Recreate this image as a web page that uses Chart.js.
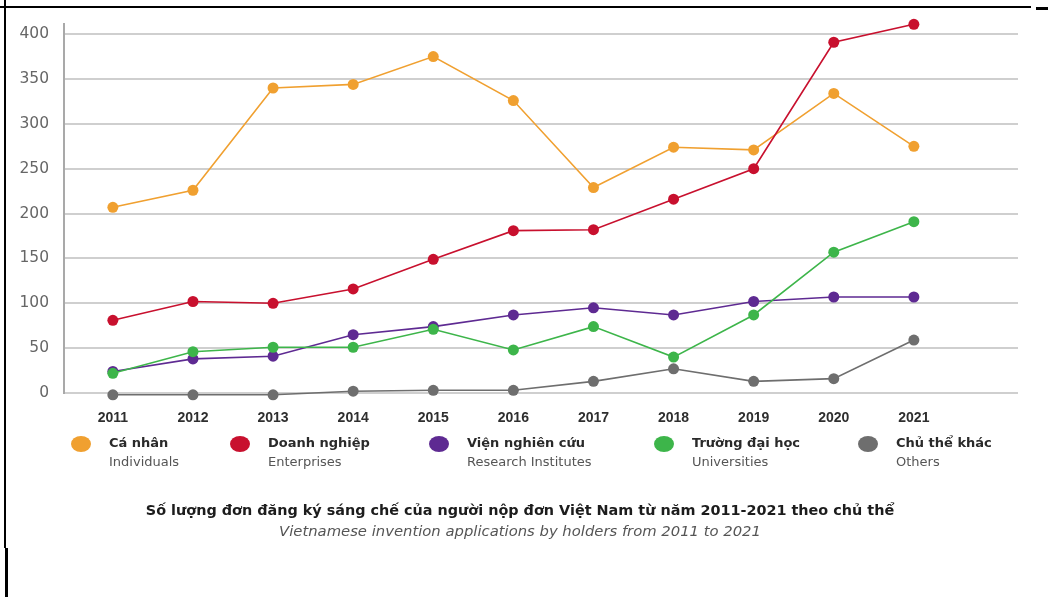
<!DOCTYPE html>
<html>
<head>
<meta charset="utf-8">
<script src="https://cdn.jsdelivr.net/npm/chart.js@4/dist/chart.umd.min.js"></script>
<style>
  html, body { margin: 0; padding: 0; background: #fff; }
  #wrap { position: relative; width: 1048px; height: 597px; overflow: hidden; }
  #wrap canvas { position: absolute; left: 0; top: 0; }
  .frame { position: absolute; background: #000; }
  .legend-item { position: absolute; top: 433px; font-family: "DejaVu Sans", sans-serif; font-size: 13px; }
  .legend-dot { position: absolute; left: 0; top: 3px; width: 20px; height: 16px; border-radius: 50%; }
  .legend-text { position: absolute; left: 38px; top: 0; white-space: nowrap; }
  .legend-text b { display: block; color: #2a2a2a; line-height: 19px; }
  .legend-text span { display: block; color: #555; line-height: 19px; }
  .caption { position: absolute; left: 0; width: 1040px; text-align: center; white-space: nowrap; }
  #title { top: 502px; font: bold 14.4px "DejaVu Sans", sans-serif; color: #1c1c1c; }
  #subtitle { top: 522px; font: italic 14.8px "DejaVu Sans", sans-serif; color: #555; }
</style>
</head>
<body>
<div id="wrap">
  <div style="width:1048px;height:597px"><canvas id="chart"></canvas></div>
  <div class="frame" style="left:0;top:6px;width:1031px;height:2px"></div>
  <div class="frame" style="left:1036px;top:7px;width:12px;height:3px"></div>
  <div class="frame" style="left:4px;top:0;width:2px;height:548px"></div>
  <div class="frame" style="left:5px;top:548px;width:3px;height:49px"></div>
  <div id="legend"></div>
  <div class="caption" id="title"></div>
  <div class="caption" id="subtitle"></div>
</div>
<script>
const years = [2011, 2012, 2013, 2014, 2015, 2016, 2017, 2018, 2019, 2020, 2021]

const individuals = [207, 226, 340, 344, 375, 326, 229, 274, 271, 334, 275]
const enterprises = [81, 102, 100, 116, 149, 181, 182, 216, 250, 391, 411]
const institutes = [24, 38, 41, 65, 74, 87, 95, 87, 102, 107, 107]
const universities = [22, 46, 51, 51, 71, 48, 74, 40, 87, 157, 191]
const others = [-2, -2, -2, 2, 3, 3, 13, 27, 13, 16, 59]

const namesVi = ['Cá nhân', 'Doanh nghiệp', 'Viện nghiên cứu', 'Trường đại học', 'Chủ thể khác']
const namesEn = ['Individuals', 'Enterprises', 'Research Institutes', 'Universities', 'Others']
const colors = ['#f0a030', '#c8102e', '#5e2a92', '#3db54a', '#6e6e6e']
const yTicks = [0, 50, 100, 150, 200, 250, 300, 350, 400]

const titleVi = 'Số lượng đơn đăng ký sáng chế của người nộp đơn Việt Nam từ năm 2011-2021 theo chủ thể'
const titleEn = 'Vietnamese invention applications by holders from 2011 to 2021'

const series = [individuals, enterprises, institutes, universities, others]
// red on top, then green over purple, grey underneath
const drawOrder = [2, 0, 3, 1, 4]

const datasets = series.map((values, i) => ({
  label: namesEn[i],
  data: values.map((v, j) => ({ x: years[j], y: v })),
  borderColor: colors[i],
  backgroundColor: colors[i],
  borderWidth: 1.6,
  pointRadius: 5.5,
  pointBorderWidth: 0,
  pointHoverRadius: 5.5,
  tension: 0,
  clip: false,
  order: drawOrder[i]
}))

new Chart(document.getElementById('chart'), {
  type: 'line',
  data: { datasets },
  options: {
    responsive: true,
    maintainAspectRatio: false,
    animation: false,
    events: [],
    layout: { padding: { left: 0, top: 24, right: 30, bottom: 164 } },
    plugins: {
      legend: { display: false },
      tooltip: { enabled: false }
    },
    scales: {
      x: {
        type: 'linear',
        min: 2010.39,
        max: 2022.3,
        afterBuildTicks: scale => { scale.ticks = years.map(v => ({ value: v })) },
        afterFit: scale => { scale.height = 40 },
        grid: { display: false },
        border: { display: false },
        ticks: {
          padding: 9,
          color: '#2e2e2e',
          font: { family: 'Liberation Sans', size: 14, weight: 'bold' },
          callback: v => String(v),
          maxRotation: 0,
          autoSkip: false
        }
      },
      y: {
        min: 0,
        max: 411,
        afterBuildTicks: scale => { scale.ticks = yTicks.map(v => ({ value: v })) },
        afterFit: scale => { scale.width = 64 },
        grid: { color: '#cfcfcf', lineWidth: 2, drawTicks: false },
        border: { color: '#a9a9a9', width: 2 },
        ticks: {
          padding: 15,
          color: '#666',
          font: { family: 'DejaVu Sans', size: 15.5 }
        }
      }
    }
  }
})

// legend sits below the axis, two lines per entry
const legendLeft = [71, 230, 429, 654, 858]
const legend = document.getElementById('legend')
namesVi.forEach((name, i) => {
  const item = document.createElement('div')
  item.className = 'legend-item'
  item.style.left = legendLeft[i] + 'px'
  item.innerHTML = '<div class="legend-dot" style="background:' + colors[i] + '"></div>' +
    '<div class="legend-text"><b>' + name + '</b><span>' + namesEn[i] + '</span></div>'
  legend.appendChild(item)
})

document.getElementById('title').textContent = titleVi
document.getElementById('subtitle').textContent = titleEn
</script>
</body>
</html>
